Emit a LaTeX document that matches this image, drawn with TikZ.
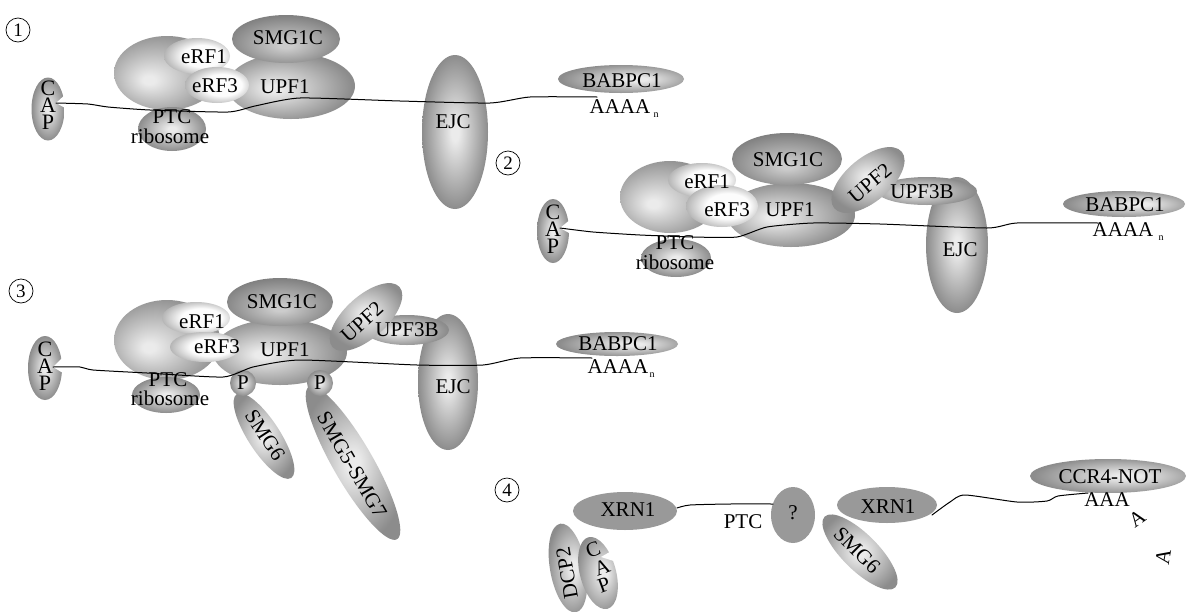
\documentclass[tikz,border=0pt]{standalone}
\usepackage{fontspec}
\setmainfont{Liberation Serif}
\usetikzlibrary{shapes.geometric}

\definecolor{hi}{gray}{0.92}
\definecolor{lo}{gray}{0.55}
\definecolor{hidk}{gray}{0.80}
\definecolor{lodk}{gray}{0.50}
\definecolor{wh}{gray}{0.99}
\definecolor{lowh}{gray}{0.66}
\definecolor{flat}{gray}{0.60}

% radial glows with the bright spot at different places (path edge = 25bp)
\pgfdeclareradialshading{glowC}{\pgfpoint{0bp}{0bp}}{color(0bp)=(hi);color(3bp)=(hi);color(25bp)=(lo);color(50bp)=(lo)}
\pgfdeclareradialshading{glowL}{\pgfpoint{-7bp}{-2bp}}{color(0bp)=(hi);color(3bp)=(hi);color(27bp)=(lo);color(50bp)=(lo)}
\pgfdeclareradialshading{glowR}{\pgfpoint{7bp}{0bp}}{color(0bp)=(hi);color(4bp)=(hi);color(27bp)=(lo);color(50bp)=(lo)}
\pgfdeclareradialshading{glowB}{\pgfpoint{0bp}{-7bp}}{color(0bp)=(hidk);color(3bp)=(hidk);color(28bp)=(lodk);color(50bp)=(lodk)}
\pgfdeclareradialshading{glowLB}{\pgfpoint{-9bp}{-5bp}}{color(0bp)=(hi);color(3bp)=(hi);color(30bp)=(lo);color(50bp)=(lo)}
\pgfdeclareradialshading{glowW}{\pgfpoint{6bp}{0bp}}{color(0bp)=(wh);color(15bp)=(wh);color(30bp)=(lowh);color(50bp)=(lowh)}

\tikzset{
  blob/.style={ellipse, inner sep=0pt, outer sep=0pt, shading=#1},
  blob/.default=glowC,
  flatblob/.style={ellipse, inner sep=0pt, outer sep=0pt, fill=flat},
  sz/.style 2 args={minimum width=#1pt, minimum height=#2pt},
  lbl/.style={inner sep=0pt, font=\fontsize{21}{23}\selectfont},
  caplbl/.style={inner sep=0pt, align=center, font=\fontsize{22}{17}\selectfont},
  sub/.style={inner sep=0pt, font=\fontsize{10}{10}\selectfont},
  numc/.style={circle, draw, line width=0.7pt, minimum size=24pt, inner sep=0pt, font=\fontsize{19}{19}\selectfont},
  notch/.style={fill=white, draw=none},
  mrna/.style={line width=1pt, line join=round, line cap=round}
}

\begin{document}
\begin{tikzpicture}[x=1pt, y=-1pt]
\useasboundingbox[fill=white] (0,0) rectangle (1187,611);

%% ---------------- step 1 ----------------
\node[numc] (n1) at (18,30) {1};
\node[blob, sz={33}{63}] (cap1) at (48,109) {};
\fill[notch] (56,103) -- (67,93) -- (67,109) -- cycle;
\node[blob=glowLB, sz={106}{74}] (rib1) at (167,73) {};
\node[blob, sz={68}{44}] (ss1) at (172,129) {};
\node[blob, sz={66}{154}] (ejc1) at (455,132) {};
\node[blob=glowL, sz={128}{66}] (upf1a) at (291,86) {};
\node[blob=glowB, sz={108}{48}] (smg1a) at (286,39) {};
\node[blob=glowW, sz={66}{36}] (erf1a) at (197,56) {};
\node[blob=glowW, sz={64}{36}] (erf3a) at (217,85) {};
\node[blob=glowR, sz={126}{28}] (babp1) at (621,79) {};

\node[caplbl] (capt1) at (48,105) {C\\A\\P};
\node[lbl] (ptc1) at (172,117) {PTC};
\node[lbl] (ribt1) at (170,136) {ribosome};
\node[lbl] (erf1t1) at (204,57) {eRF1};
\node[lbl] (erf3t1) at (215,86) {eRF3};
\node[lbl] (smgt1) at (288,38) {SMG1C};
\node[lbl] (upft1) at (285,87) {UPF1};
\node[lbl] (ejct1) at (453,122) {EJC};
\node[lbl] (babt1) at (622,81) {BABPC1};
\node[lbl] (aaaa1) at (620,107) {AAAA};
\node[sub] (nn1) at (656,115) {n};

\coordinate (m1s) at (56,103);
\coordinate (m1e) at (597,97);
\draw[mrna] plot[smooth, tension=0.35] coordinates {(m1s) (88,104) (108,107) (150,110) (228,112) (255,106) (300,98) (400,101) (490,103) (530,97) (m1e)};

%% ---------------- step 2 ----------------
\node[numc] (n2) at (508,163) {2};
\node[blob, sz={32}{64}] (cap2) at (553,231) {};
\fill[notch] (560,228) -- (571,219) -- (571,234) -- cycle;
\node[blob=glowLB, sz={100}{72}] (rib2) at (670,197) {};
\node[blob, sz={70}{38}] (ss2) at (676,258) {};
\node[blob, sz={62}{136}] (ejc2) at (957,245) {};
\node[blob=glowL, sz={128}{64}] (upf1b) at (791,215) {};
\node[blob=glowB, sz={110}{52}] (smg1b) at (787,159) {};
\node[blob=glowW, sz={68}{34}] (erf1b) at (702,180) {};
\node[blob=glowW, sz={72}{42}] (erf3b) at (722,206) {};
\node[blob=glowL, sz={100}{28}] (upf3b2) at (927,191) {};
\node[blob, sz={88}{44}, rotate=40] (upf2b) at (868,180) {};
\node[blob=glowR, sz={122}{26}] (babp2) at (1124,204) {};

\node[caplbl] (capt2) at (553,229) {C\\A\\P};
\node[lbl] (ptc2) at (675,243) {PTC};
\node[lbl] (ribt2) at (675,262) {ribosome};
\node[lbl] (erf1t2) at (707,182) {eRF1};
\node[lbl] (erf3t2) at (727,210) {eRF3};
\node[lbl] (smgt2) at (788,160) {SMG1C};
\node[lbl] (upft2) at (790,210) {UPF1};
\node[lbl, rotate=40] (upf2t2) at (870,183) {UPF2};
\node[lbl] (upf3t2) at (922,192) {UPF3B};
\node[lbl] (ejct2) at (960,250) {EJC};
\node[lbl] (babt2) at (1125,205) {BABPC1};
\node[lbl] (aaaa2) at (1123,230) {AAAA};
\node[sub] (nn2) at (1161,238) {n};

\coordinate (m2s) at (560,228);
\coordinate (m2e) at (1098,223);
\draw[mrna] plot[smooth, tension=0.35] coordinates {(m2s) (593,232) (640,235) (693,237) (737,237) (767,227) (813,223) (880,224) (987,228) (1017,223) (m2e)};

%% ---------------- step 3 ----------------
\node[numc] (n3) at (21,291) {3};
\node[blob, sz={34}{64}] (cap3) at (45,368) {};
\fill[notch] (53,367) -- (63,357) -- (63,373) -- cycle;
\node[blob=glowLB, sz={106}{80}] (rib3) at (167,340) {};
\node[blob, sz={68}{36}] (ss3) at (166,395) {};
\node[blob, sz={100}{32}, rotate=-57] (smg6c) at (264,436) {};
\node[blob, sz={176}{40}, rotate=-60] (smg57) at (353,463) {};
\node[blob, sz={60}{136}] (ejc3) at (448,382) {};
\node[blob=glowL, sz={134}{66}] (upf1c) at (280,352) {};
\node[blob=glowB, sz={106}{48}] (smg1c) at (280,302) {};
\node[blob=glowW, sz={68}{32}] (erf1c) at (196,318) {};
\node[blob=glowW, sz={70}{30}] (erf3c) at (205,347) {};
\node[blob=glowL, sz={84}{30}] (upf3b3) at (407,330) {};
\node[blob, sz={90}{42}, rotate=42] (upf2c) at (366,317) {};
\node[blob, circle, minimum size=26pt] (p1) at (243,383) {};
\node[blob, circle, minimum size=26pt] (p2) at (320,383) {};
\node[blob=glowR, sz={122}{24}] (babp3) at (617,344) {};

\node[caplbl] (capt3) at (45,366) {C\\A\\P};
\node[lbl] (ptc3) at (168,380) {PTC};
\node[lbl] (ribt3) at (170,398) {ribosome};
\node[lbl] (erf1t3) at (202,322) {eRF1};
\node[lbl] (erf3t3) at (217,347) {eRF3};
\node[lbl] (smgt3) at (282,302) {SMG1C};
\node[lbl] (upft3) at (285,350) {UPF1};
\node[lbl] (pt1) at (243,383) {P};
\node[lbl] (pt2) at (320,383) {P};
\node[lbl, rotate=-57] (smg6t3) at (265,435) {SMG6};
\node[lbl, rotate=-60] (smg57t) at (352,465) {SMG5-SMG7};
\node[lbl, rotate=42] (upf2t3) at (362,322) {UPF2};
\node[lbl] (upf3t3) at (407,330) {UPF3B};
\node[lbl] (ejct3) at (453,387) {EJC};
\node[lbl] (babt3) at (618,344) {BABPC1};
\node[lbl] (aaaa3) at (618,367) {AAAA};
\node[sub] (nn3) at (652,375) {n};

\coordinate (m3s) at (53,367);
\coordinate (m3e) at (592,358);
\draw[mrna] plot[smooth, tension=0.35] coordinates {(m3s) (80,367) (93,370) (147,373) (223,377) (253,367) (300,360) (417,365) (483,365) (520,358) (m3e)};

%% ---------------- step 4 ----------------
\node[numc] (n4) at (507,490) {4};
\node[flatblob, sz={104}{38}] (xrn1a) at (625,511) {};
\node[flatblob, sz={44}{56}] (q) at (793,515) {};
\node[blob=glowR, sz={90}{36}, rotate=100] (dcp2) at (568,568) {};
\node[blob=glowR, sz={36}{74}, rotate=15] (cap4) at (598,573) {};
\fill[notch] (601,557) -- (620,546) -- (620,563) -- cycle;
\node[flatblob, sz={100}{36}] (xrn1b) at (887,505) {};
\node[blob, sz={100}{36}, rotate=-45] (smg6d) at (860,552) {};
\node[blob=glowR, sz={156}{34}] (ccr4) at (1108,476) {};

\node[lbl] (xrnt1) at (628,510) {XRN1};
\node[lbl] (ptc4) at (743,522) {PTC};
\node[lbl] (qt) at (793,513) {?};
\node[lbl, rotate=100] (dcpt) at (567,573) {DCP2};
\node[lbl, rotate=20] (c4) at (593,550) {C};
\node[lbl, rotate=20] (a4) at (602,567) {A};
\node[lbl, rotate=20] (p4) at (604,585) {P};
\node[lbl] (xrnt2) at (888,507) {XRN1};
\node[lbl, rotate=-45] (smg6t4) at (857,550) {SMG6};
\node[lbl] (ccrt) at (1110,477) {CCR4-NOT};
\node[lbl] (aaa4) at (1107,500) {AAA};
\node[lbl, rotate=35] (afall1) at (1137,518) {A};
\node[lbl, rotate=80] (afall2) at (1163,557) {A};

\coordinate (m4as) at (677,508);
\coordinate (m4ae) at (773,504);
\draw[mrna] plot[smooth, tension=0.4] coordinates {(m4as) (690,505) (730,504) (m4ae)};
\coordinate (m4bs) at (932,515);
\coordinate (m4be) at (1088,493);
\draw[mrna] plot[smooth, tension=0.4] coordinates {(m4bs) (950,502) (965,495) (1017,502) (1047,501) (1058,496) (m4be)};
\end{tikzpicture}
\end{document}
